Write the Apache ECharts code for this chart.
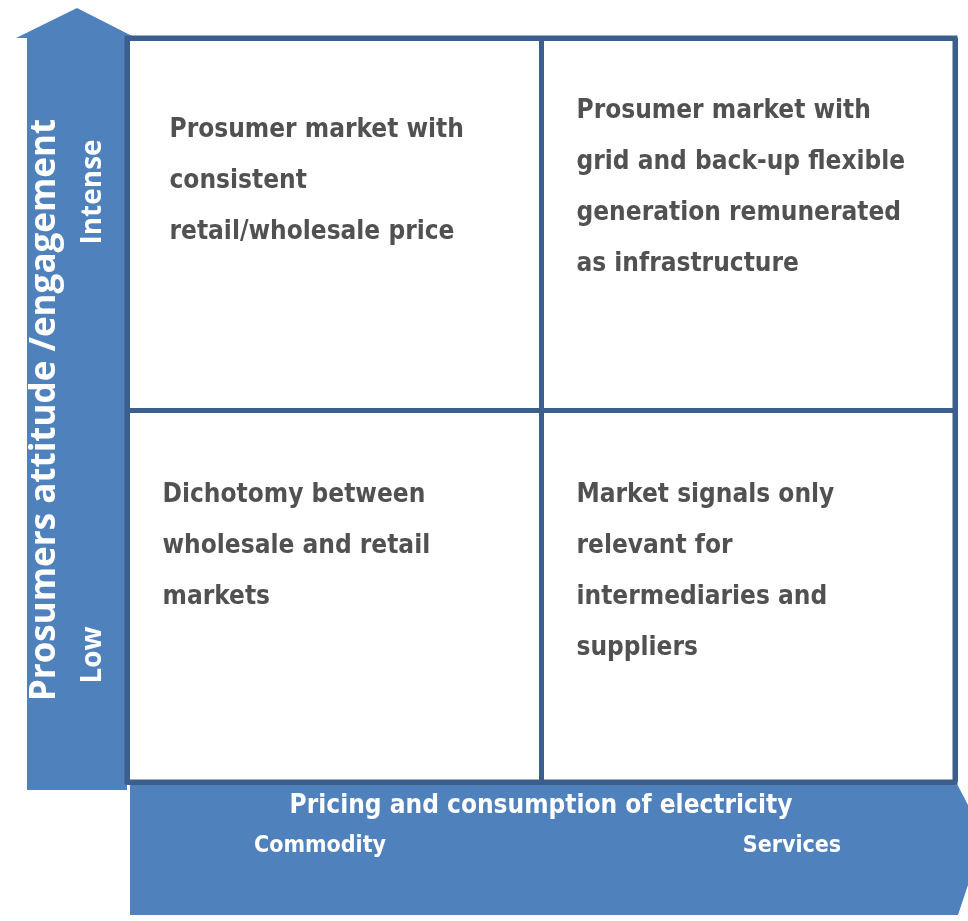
<!DOCTYPE html>
<html>
<head>
<meta charset="utf-8">
<script src="https://cdn.jsdelivr.net/npm/echarts@6/dist/echarts.min.js"></script>
<style>
  html, body { margin: 0; padding: 0; background: #fff; }
  #chart { width: 968px; height: 921px; }
</style>
</head>
<body>
<div id="chart"></div>
<script>
var xCategories = ['Commodity', 'Services'];
var yCategories = ['Low', 'Intense'];
var xTitle = 'Pricing and consumption of electricity';
var yTitle = 'Prosumers attitude /engagement';

// quadrant texts: [x category index, y category index, lines]
var quadrantText = [
    [0, 1, ['Prosumer market with', 'consistent', 'retail/wholesale price']],
    [1, 1, ['Prosumer market with', 'grid and back-up flexible', 'generation remunerated', 'as infrastructure']],
    [0, 0, ['Dichotomy between', 'wholesale and retail', 'markets']],
    [1, 0, ['Market signals only', 'relevant for', 'intermediaries and', 'suppliers']]
];
var labelOffsets = [[-164, -119], [-171, -138], [-171, -126], [-171, -126]];

var blue = '#4F81BD';
var border = '#3B5E8C';
var narrow = '"DejaVu Sans Condensed", sans-serif';
var wide = '"Open Sans", sans-serif';

var data = quadrantText.map(function (item, i) {
    return {
        value: [item[0], item[1]],
        label: { position: labelOffsets[i], formatter: item[2].join('\n') }
    };
});

var option = {
    animation: false,
    graphic: [
        {
            type: 'polygon', z: -10,
            shape: { points: [[77, 8], [136, 38], [127, 38], [127, 790], [27, 790], [27, 38], [16, 38]] },
            style: { fill: blue }
        },
        {
            type: 'polygon', z: -10,
            shape: { points: [[130, 782], [956, 782], [968, 805], [968, 885], [958, 915], [130, 915]] },
            style: { fill: blue }
        }
    ],
    grid: {
        left: 127, right: 13, top: 38, bottom: 139,
        show: true,
        backgroundColor: '#fff',
        borderColor: border,
        borderWidth: 5
    },
    xAxis: {
        type: 'category',
        data: [
            { value: xCategories[0], textStyle: { padding: [0, 28, 0, 0] } },
            { value: xCategories[1], textStyle: { padding: [0, 0, 0, 88] } }
        ],
        axisLine: { show: false },
        axisTick: { show: false },
        axisLabel: {
            interval: 0, margin: 53, color: '#fff',
            fontFamily: narrow, fontWeight: 'bold', fontSize: 23
        },
        splitLine: { show: true, interval: 0, lineStyle: { color: border, width: 5 } },
        name: xTitle,
        nameLocation: 'middle',
        nameGap: 11,
        nameMoveOverlap: false,
        nameTextStyle: {
            color: '#fff', fontFamily: narrow, fontWeight: 'bold', fontSize: 26,
            verticalAlign: 'top'
        }
    },
    yAxis: {
        type: 'category',
        data: [
            { value: yCategories[0], textStyle: { padding: [0, 118, 0, 0] } },
            { value: yCategories[1], textStyle: { padding: [0, 0, 0, 64] } }
        ],
        axisLine: { show: false },
        axisTick: { show: false },
        axisLabel: {
            interval: 0, rotate: 90, margin: 20, color: '#fff',
            fontFamily: wide, fontWeight: 'bold', fontSize: 28
        },
        splitLine: { show: true, interval: 0, lineStyle: { color: border, width: 5 } },
        name: yTitle,
        nameLocation: 'middle',
        nameRotate: 90,
        nameGap: 64,
        nameMoveOverlap: false,
        nameTextStyle: {
            color: '#fff', fontFamily: wide, fontWeight: 'bold', fontSize: 35
        }
    },
    series: [{
        type: 'scatter',
        symbolSize: 1,
        itemStyle: { color: 'transparent' },
        label: {
            show: true,
            align: 'left',
            verticalAlign: 'top',
            color: '#262626',
            textBorderWidth: 0,
            fontFamily: narrow,
            fontWeight: 'bold',
            fontSize: 26,
            lineHeight: 51
        },
        data: data
    }]
};

var myChart = echarts.init(document.getElementById('chart'));
myChart.setOption(option);
</script>
</body>
</html>
